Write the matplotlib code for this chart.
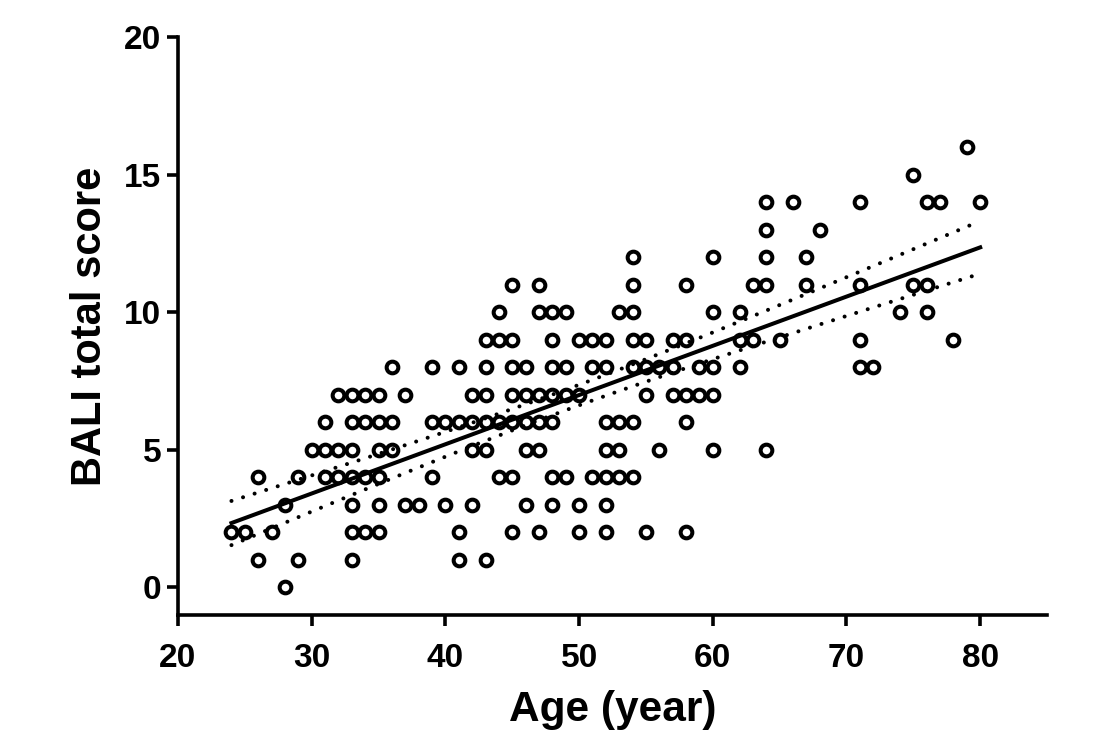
import numpy as np
import matplotlib
matplotlib.use("Agg")
import matplotlib.pyplot as plt

# Data: score value -> list of ages with that score
scores = [0, 1, 2, 3, 4, 5, 6, 7, 8, 9, 10, 11, 12, 13, 14, 15, 16]
ages_by_score = [
    [28],
    [26, 29, 33, 41, 43],
    [24, 25, 27, 33, 34, 35, 41, 45, 47, 50, 52, 55, 58],
    [28, 33, 35, 37, 38, 40, 42, 46, 48, 50, 52],
    [26, 29, 31, 32, 33, 34, 35, 39, 44, 45, 48, 49, 51, 52, 53, 54],
    [30, 31, 32, 33, 35, 36, 42, 43, 46, 47, 52, 53, 56, 60, 64],
    [31, 33, 34, 35, 36, 39, 40, 41, 42, 43, 44, 45, 46, 47, 48, 52, 53, 54, 58],
    [32, 33, 34, 35, 37, 42, 43, 45, 46, 47, 48, 49, 50, 55, 57, 58, 59, 60],
    [36, 39, 41, 43, 45, 46, 48, 49, 51, 52, 54, 55, 56, 57, 59, 60, 62, 71, 72],
    [43, 44, 45, 48, 50, 51, 52, 54, 55, 57, 58, 62, 63, 65, 71, 78],
    [44, 47, 48, 49, 53, 54, 60, 62, 74, 76],
    [45, 47, 54, 58, 63, 64, 67, 71, 75, 76],
    [54, 60, 64, 67],
    [64, 68],
    [64, 66, 71, 76, 77, 80],
    [75],
    [79],
]

x_ticks = [20, 30, 40, 50, 60, 70, 80]
y_ticks = [0, 5, 10, 15, 20]

age = np.array([a for s, lst in zip(scores, ages_by_score) for a in lst], dtype=float)
score = np.array([s for s, lst in zip(scores, ages_by_score) for a in lst], dtype=float)

# Linear regression + 95% CI of the mean
n = len(age)
b1, b0 = np.polyfit(age, score, 1)
resid = score - (b0 + b1 * age)
s = np.sqrt(np.sum(resid ** 2) / (n - 2))
xm = age.mean()
sxx = np.sum((age - xm) ** 2)
xf = np.linspace(age.min(), age.max(), 200)
yf = b0 + b1 * xf
t = 1.97
se = s * np.sqrt(1.0 / n + (xf - xm) ** 2 / sxx)

plt.rcParams['font.family'] = ['Liberation Sans', 'DejaVu Sans']
fig = plt.figure(figsize=(10.98, 7.52), dpi=100)
ax = fig.add_axes([0.1621, 0.1822, 0.7915, 0.7686])

ax.plot(age, score, linestyle='none', marker='o', markersize=8.4,
        markerfacecolor='none', markeredgecolor='black', markeredgewidth=2.9,
        zorder=3)
ax.plot(xf, yf, color='black', lw=2.9, zorder=4)
dot = (0, (0.01, 3.0))
ax.plot(xf, yf + t * se, color='black', lw=2.9, linestyle=dot,
        dash_capstyle='round', zorder=4)
ax.plot(xf, yf - t * se, color='black', lw=2.9, linestyle=dot,
        dash_capstyle='round', zorder=4)

ax.set_xlim(20, 85)
ax.set_ylim(-1, 20)
ax.set_xticks(x_ticks)
ax.set_yticks(y_ticks)
for sp in ['top', 'right']:
    ax.spines[sp].set_visible(False)
for sp in ['left', 'bottom']:
    ax.spines[sp].set_linewidth(2.6)
ax.tick_params(width=2.6, length=8, labelsize=24)
ax.tick_params(axis='x', pad=12)
ax.tick_params(axis='y', pad=4)
for lbl in ax.get_xticklabels() + ax.get_yticklabels():
    lbl.set_fontweight('bold')

ax.set_xlabel('Age (year)', fontsize=30.5, fontweight='bold', labelpad=12)
ax.set_ylabel('BALI total score', fontsize=30, fontweight='bold', labelpad=10)

fig.savefig('out.png', dpi=100)
